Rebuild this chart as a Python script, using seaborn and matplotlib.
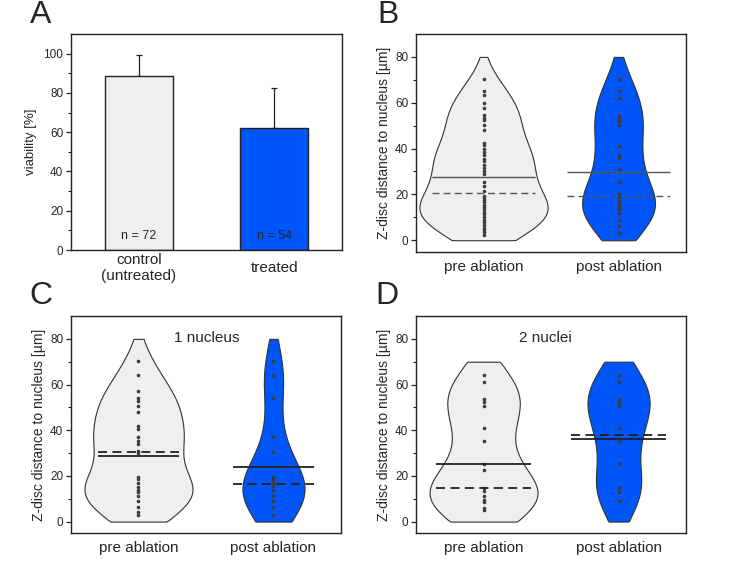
import numpy as np
import pandas as pd
import matplotlib.pyplot as plt
import seaborn as sns

# ---- data ----
cond_labels = ["control\n(untreated)", "treated"]
viability = [88.8, 61.9]
viability_sd = [10.4, 20.6]
n_cells = ["n = 72", "n = 54"]

groups = ["pre ablation", "post ablation"]

# B: all cells
b_pre = [70.5, 65, 63.5, 60, 57.5, 54.5, 53.5, 52.5, 50.5, 48, 42.5, 41.5, 40,
         38.5, 37, 35.5, 34.5, 33, 31.5, 30, 29, 25.5, 23.5, 21.5, 19.5, 18.5,
         17.5, 16.5, 15.5, 14.5, 13.5, 12.5, 11.5, 10, 9, 8, 6.5, 5.5, 4.5, 3.5, 2.5]
b_post = [70.5, 65, 62, 54, 53, 52, 50.5, 41, 37, 36, 31, 25.5, 20, 19, 17, 16,
          14.5, 13.5, 12, 9, 6, 3]
b_mean = [27.8, 29.7]
b_median = [20.8, 19.3]

# C: 1 nucleus
c_pre = [70.5, 64, 57, 54, 53, 50.5, 48, 42, 40.5, 37, 35.5, 34, 31, 30, 19.5,
         18.5, 17, 15, 14, 13, 11, 9, 6.5, 4, 3]
c_post = [70.5, 64, 54, 37, 30.5, 19.5, 18, 17, 15.5, 14, 11, 9, 6.5, 3]
c_mean = [28.6, 23.8]
c_median = [30.5, 16.3]

# D: 2 nuclei
d_pre = [64, 61, 53.5, 52.5, 50.5, 41, 35.5, 25, 22.5, 14.5, 13.5, 11, 9.5,
         8.5, 6, 5]
d_post = [64, 61, 53.5, 52, 50.5, 41, 35.5, 25, 14.5, 13, 9]
d_mean = [25.1, 36.2]
d_median = [14.6, 37.9]

light = "#efefef"
blue = "#0055f8"
dark = "#222222"

sns.set_style("ticks")
plt.rcParams["font.family"] = ["Liberation Sans", "DejaVu Sans"]
plt.rcParams["axes.linewidth"] = 1.0
plt.rcParams["axes.edgecolor"] = dark


def style_axis(ax, ylim, yticks, minor):
    ax.set_ylim(*ylim)
    ax.set_yticks(yticks)
    ax.set_yticks(minor, minor=True)
    ax.tick_params(axis="y", which="major", direction="out", length=3.5,
                   width=0.9, labelsize=8.5, color=dark, pad=2)
    ax.tick_params(axis="y", which="minor", direction="out", length=2,
                   width=0.8, color=dark)
    ax.tick_params(axis="x", length=0, labelsize=11, pad=6)
    for s in ax.spines.values():
        s.set_visible(True)
        s.set_color(dark)
    ax.set_xlabel("")


def violin_panel(ax, pre, post, widths, top, means, medians, half, lcol, lw):
    df = pd.DataFrame({
        "group": [groups[0]] * len(pre) + [groups[1]] * len(post),
        "z": pre + post,
    })
    for g, w, c in zip(groups, widths, [light, blue]):
        n0 = len(ax.collections)
        sns.violinplot(data=df[df["group"] == g], x="group", y="z", order=groups,
                       width=w, color=c, saturation=1, inner=None, cut=3,
                       bw_adjust=0.9, linewidth=0.8, linecolor="#333333", ax=ax)
        # Origin-style violins are cut flat at the range limits
        for coll in ax.collections[n0:]:
            new = []
            for p in coll.get_paths():
                v = p.vertices.copy()
                v[:, 1] = np.clip(v[:, 1], 0, top)
                new.append(v)
            coll.set_verts(new)
    sns.stripplot(data=df, x="group", y="z", order=groups, jitter=False,
                  size=2.6, color="#3c3c3c", linewidth=0, ax=ax, zorder=3)
    for i in range(2):
        ax.hlines(means[i], i - half, i + half, color=lcol, lw=lw, zorder=4)
        ax.hlines(medians[i], i - half, i + half, color=lcol, lw=lw,
                  linestyles=(0, (5, 3)), zorder=4)
    ax.set_xlim(-0.5, 1.5)
    style_axis(ax, (-5, 90), [0, 20, 40, 60, 80], [10, 30, 50, 70])
    ax.set_ylabel("Z-disc distance to nucleus [µm]", fontsize=10, labelpad=3)


fig = plt.figure(figsize=(7.4, 5.84), dpi=100)
axA = fig.add_axes([0.0959, 0.5719, 0.3662, 0.3699])
axB = fig.add_axes([0.5622, 0.5690, 0.3649, 0.3728])
axC = fig.add_axes([0.0959, 0.0873, 0.3649, 0.3716])
axD = fig.add_axes([0.5622, 0.0873, 0.3649, 0.3716])

# ---- A: viability bars ----
bar_df = pd.DataFrame({"cond": cond_labels, "viability": viability})
sns.barplot(data=bar_df, x="cond", y="viability", hue="cond",
            palette=[light, blue], width=0.5, edgecolor=dark, linewidth=1,
            saturation=1, legend=False, ax=axA, zorder=2)
axA.errorbar([0, 1], viability, yerr=[[0, 0], viability_sd], fmt="none",
             ecolor=dark, elinewidth=0.9, capsize=2.5, capthick=0.9, zorder=1)
for i, t in enumerate(n_cells):
    axA.text(i, 7, t, ha="center", va="center", fontsize=9)
axA.set_xlim(-0.5, 1.5)
style_axis(axA, (0, 110), [0, 20, 40, 60, 80, 100], [10, 30, 50, 70, 90])
axA.set_ylabel("viability [%]", fontsize=9.5, labelpad=5)
axA.tick_params(axis="x", pad=13)
for lab in axA.get_xticklabels():
    lab.set_va("center")
    lab.set_linespacing(1.2)

# ---- B, C, D: violins ----
violin_panel(axB, b_pre, b_post, [0.95, 0.54], 80, b_mean, b_median, 0.38,
             "#555555", 1.0)
violin_panel(axC, c_pre, c_post, [0.80, 0.46], 80, c_mean, c_median, 0.30,
             dark, 1.3)
violin_panel(axD, d_pre, d_post, [0.80, 0.46], 70, d_mean, d_median, 0.35,
             dark, 1.3)
axC.text(0.504, 0.9, "1 nucleus", transform=axC.transAxes, ha="center",
         va="center", fontsize=11)
axD.text(0.478, 0.9, "2 nuclei", transform=axD.transAxes, ha="center",
         va="center", fontsize=11)

for lab, (x, y) in zip("ABCD", [(0.040, 0.975), (0.510, 0.975),
                                 (0.040, 0.493), (0.507, 0.493)]):
    fig.text(x, y, lab, fontsize=23, ha="left", va="center")

fig.savefig("out.png", dpi=100)
